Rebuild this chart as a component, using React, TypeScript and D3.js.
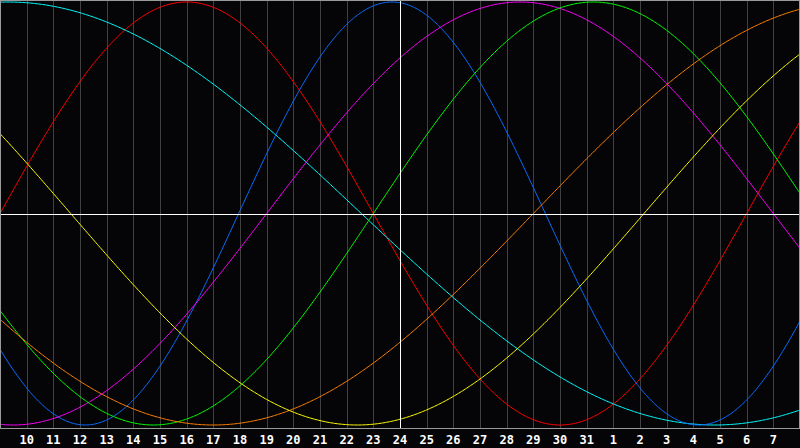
import * as d3 from "d3";
import { useEffect, useRef } from "react";

// biorhythm cycles: length in days and the day offset (from left edge) of the first peak
const cycleNames = ["emotional", "spiritual", "physical", "intuitive", "intellectual", "awareness", "aesthetic"];
const cyclePeriods = [28, 53, 23, 38, 33, 48, 43];
const cyclePeaks = [7.0, 0.3, 14.7, 19.5, 22.25, 32.0, -8.1];
const cycleColors = ["#ff0000", "#00ffff", "#0a6cff", "#ff00ff", "#00ff00", "#ff8000", "#ffff00"];

// day-of-month labels, one per grid line
const dayLabels = [
    "10", "11", "12", "13", "14", "15", "16", "17", "18", "19", "20", "21", "22", "23", "24",
    "25", "26", "27", "28", "29", "30", "31", "1", "2", "3", "4", "5", "6", "7",
];
const spanDays = 30;
const todayLabel = "24";

const App = () => {
    const svgRef = useRef<SVGSVGElement | null>(null);

    const dimensions = { width: 800, height: 448 };
    const plot = { left: 0, right: 799, top: 0, bottom: 428 };

    useEffect(() => {
        const svg = d3.select(svgRef.current);
        svg.selectAll("*").remove();

        const xScale = d3.scaleLinear().domain([0, spanDays]).range([0, 800]);
        const yScale = d3.scaleLinear().domain([-1, 1]).range([425, 2]);
        const color = d3.scaleOrdinal<string, string>().domain(cycleNames).range(cycleColors);

        svg.append("rect")
            .attr("width", dimensions.width)
            .attr("height", dimensions.height)
            .attr("fill", "#050508");

        // grid lines
        const ticks = dayLabels.map((_, i) => i + 1);
        svg.append("g")
            .selectAll("line")
            .data(ticks)
            .join("line")
            .attr("x1", (d) => Math.round(xScale(d)) + 0.5)
            .attr("x2", (d) => Math.round(xScale(d)) + 0.5)
            .attr("y1", plot.top)
            .attr("y2", plot.bottom)
            .attr("stroke", "#404040")
            .attr("shape-rendering", "crispEdges");

        // curves
        const samples = d3.range(0, spanDays + 0.05, 0.05);
        const line = d3
            .line<number[]>()
            .x((d) => xScale(d[0]))
            .y((d) => yScale(d[1]));

        cycleNames.forEach((name, i) => {
            const pts = samples.map((t) => [t, Math.cos((2 * Math.PI * (t - cyclePeaks[i])) / cyclePeriods[i])]);
            svg.append("path")
                .datum(pts)
                .attr("d", line)
                .attr("fill", "none")
                .attr("stroke", color(name))
                .attr("stroke-width", 1);
        });

        // today / zero lines
        const todayX = Math.round(xScale(dayLabels.indexOf(todayLabel) + 1)) + 0.5;
        svg.append("line")
            .attr("x1", todayX)
            .attr("x2", todayX)
            .attr("y1", plot.top)
            .attr("y2", plot.bottom)
            .attr("stroke", "#ffffff")
            .attr("shape-rendering", "crispEdges");
        svg.append("line")
            .attr("x1", plot.left)
            .attr("x2", plot.right)
            .attr("y1", Math.round(yScale(0)) + 0.5)
            .attr("y2", Math.round(yScale(0)) + 0.5)
            .attr("stroke", "#ffffff")
            .attr("shape-rendering", "crispEdges");

        // border
        svg.append("rect")
            .attr("x", plot.left + 0.5)
            .attr("y", plot.top + 0.5)
            .attr("width", plot.right - plot.left)
            .attr("height", plot.bottom - plot.top)
            .attr("fill", "none")
            .attr("stroke", "#9a9a9a")
            .attr("shape-rendering", "crispEdges");

        // day labels
        svg.append("g")
            .selectAll("text")
            .data(dayLabels)
            .join("text")
            .attr("x", (_, i) => xScale(i + 1))
            .attr("y", 444)
            .attr("text-anchor", "middle")
            .attr("fill", "#ffffff")
            .attr("font-family", "DejaVu Sans Mono")
            .attr("font-weight", "bold")
            .attr("font-size", 12)
            .text((d) => d);
    }, []);

    return (
        <div style={{ position: "fixed", left: 0, top: 0 }}>
            <svg ref={svgRef} width={dimensions.width} height={dimensions.height} style={{ display: "block" }} />
        </div>
    );
};

export default App;
